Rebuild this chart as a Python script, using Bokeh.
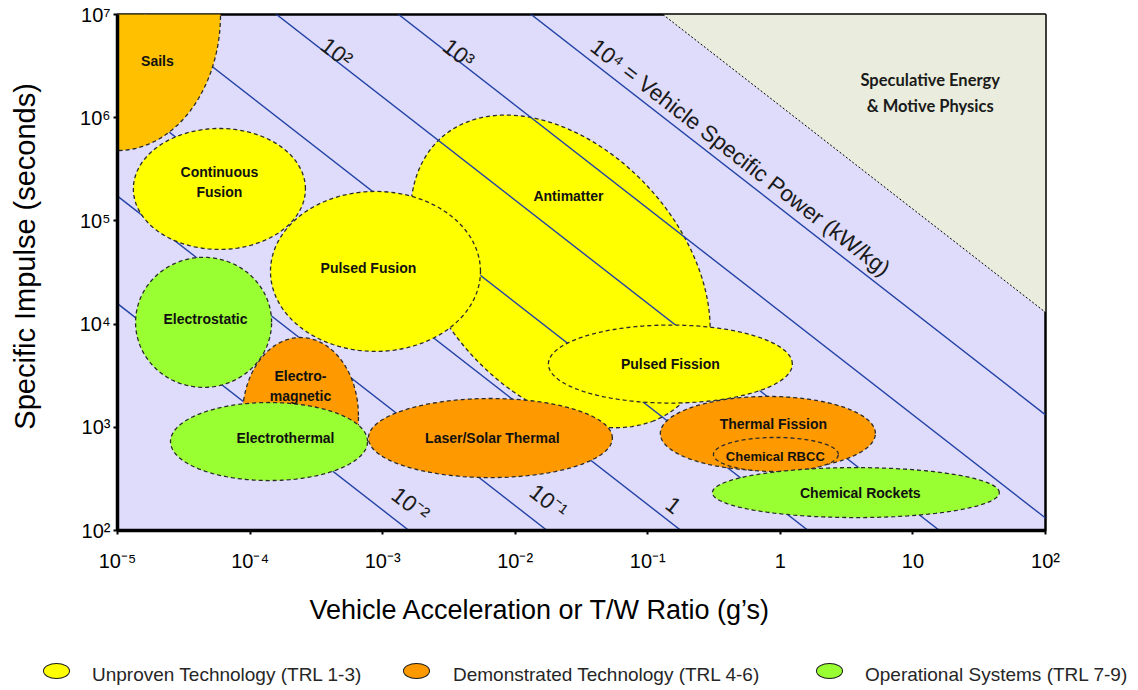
import numpy as np
from bokeh.plotting import figure
from bokeh.models import Range1d, FixedTicker, CustomJSTickFormatter, Div
from bokeh.layouts import column
from bokeh.embed import file_html
from bokeh.resources import INLINE
from bokeh.core.properties import value

# ---------------- data ----------------
x_ticks = [1e-5, 1e-4, 1e-3, 1e-2, 1e-1, 1, 10, 100]
x_tick_labels = ["10⁻⁵", "10⁻⁴", "10⁻³", "10⁻²", "10⁻¹", "1", "10", "10²"]
y_ticks = [1e2, 1e3, 1e4, 1e5, 1e6, 1e7]
y_tick_labels = ["10²", "10³", "10⁴", "10⁵", "10⁶", "10⁷"]
x_title = "Vehicle Acceleration or T/W Ratio (g’s)"
y_title = "Specific Impulse (seconds)"

# constant vehicle specific power lines (kW/kg) -> value of accel*Isp on that line
power_levels = [1e-2, 1e-1, 1, 10, 100, 1e3, 1e4]
power_accel_isp = [0.158, 1.74, 17.8, 162, 1585, 13200, 132000]

power_label_text = ["10⁻²", "10⁻¹", "1", "10²", "10³", "10⁴ = Vehicle Specific Power (kW/kg)"]
power_label_accel = [1.62e-3, 0.0178, 0.156, 4.49e-4, 3.73e-3, 0.499]
power_label_isp = [179, 191, 175, 4.28e6, 4.19e6, 4.11e5]

speculative_accel_isp = 1.3e6
speculative_label = "Speculative Energy\n& Motive Physics"
speculative_label_accel = 13.5
speculative_label_isp = 1.75e6

# propulsion regions (drawing order); centre, half extents in decades, tilt in log space
region_names = ["Antimatter", "Sails", "Continuous Fusion", "Electrostatic", "Pulsed Fusion",
                "Electromagnetic", "Electrothermal", "Laser/Solar Thermal", "Pulsed Fission",
                "Thermal Fission", "Chemical RBCC", "Chemical Rockets"]
region_class = ["unproven", "sails", "unproven", "operational", "unproven",
                "demonstrated", "operational", "demonstrated", "unproven",
                "demonstrated", "demonstrated", "operational"]
region_accel = [0.0219, 1e-5, 5.87e-5, 4.46e-5, 8.83e-4,
                2.40e-4, 1.39e-4, 6.50e-3, 0.148,
                0.805, 0.925, 3.71]
region_isp = [3.24e4, 1e7, 2.04e5, 1.04e4, 3.24e4,
              1300, 728, 787, 4100,
              871, 545, 233]
region_rx = [1.61, 0.777, 0.649, 0.513, 0.792,
             0.437, 0.743, 0.920, 0.920,
             0.811, 0.471, 1.082]
region_ry = [0.99, 1.318, 0.586, 0.630, 0.775,
             0.756, 0.378, 0.383, 0.378,
             0.359, 0.165, 0.242]
region_tilt = [-64.6, 0, 0, 0, 0, 0, 0, 0, 0, 0, 0, 0]
region_floor = [None, None, None, None, None, 667, None, None, None, None, None, None]

region_label_text = ["Antimatter", "Sails", "Continuous\nFusion", "Electrostatic", "Pulsed Fusion",
                     "Electro-\nmagnetic", "Electrothermal", "Laser/Solar Thermal", "Pulsed Fission",
                     "Thermal Fission", "Chemical RBCC", "Chemical Rockets"]
region_label_accel = [0.0252, 2.0e-5, 5.87e-5, 4.61e-5, 7.81e-4,
                      2.40e-4, 1.85e-4, 6.73e-3, 0.148,
                      0.885, 0.916, 4.01]
region_label_isp = [1.76e5, 3.58e6, 2.36e5, 1.13e4, 3.46e4,
                    2540, 796, 796, 4070,
                    1065, 521, 233]

legend_classes = ["unproven", "demonstrated", "operational"]
legend_text = ["Unproven Technology (TRL 1-3)", "Demonstrated Technology (TRL 4-6)",
               "Operational Systems (TRL 7-9)"]

# ---------------- styles ----------------
fill_for = {"unproven": "#FFFF00", "demonstrated": "#FF9900",
            "operational": "#99FF33", "sails": "#FFC000"}
LAVENDER = "#DEDCFA"
SPEC_FILL = "#EAEDDD"
LINE_BLUE = "#2342A6"
FONT = "Liberation Sans"
NBSP = "\u00a0"


def ellipse_path(cx, cy, rx, ry, tilt_deg, floor=None, n=200):
    lx0, ly0 = np.log10(cx), np.log10(cy)
    phi = np.radians(tilt_deg)
    t = np.linspace(0, np.pi if floor is not None else 2 * np.pi, n)
    ex, ey = rx * np.cos(t), ry * np.sin(t)
    lx = lx0 + ex * np.cos(phi) - ey * np.sin(phi)
    ly = ly0 + ex * np.sin(phi) + ey * np.cos(phi)
    xs, ys = list(10 ** lx), list(10 ** ly)
    if floor is not None:
        xs += [10 ** (lx0 - rx), 10 ** (lx0 + rx)]
        ys += [floor, floor]
    return xs, ys


p = figure(x_axis_type="log", y_axis_type="log",
           x_range=Range1d(x_ticks[0], x_ticks[-1]), y_range=Range1d(y_ticks[0], y_ticks[-1]),
           frame_width=928, frame_height=516,
           min_border_left=117, min_border_top=14, min_border_right=88, min_border_bottom=100,
           output_backend="svg", toolbar_location=None)
p.background_fill_color = LAVENDER
p.border_fill_color = "white"
p.outline_line_color = "black"
p.outline_line_width = 2.5
p.xgrid.visible = False
p.ygrid.visible = False

# speculative region
xmax, ymax = x_ticks[-1], y_ticks[-1]
p.patch([speculative_accel_isp / ymax, xmax, xmax],
        [ymax, ymax, speculative_accel_isp / xmax],
        fill_color=SPEC_FILL, line_color=None)
p.line([speculative_accel_isp / ymax, xmax], [ymax, speculative_accel_isp / xmax],
       line_color="black", line_dash="2 2", line_width=1)


def draw_region(i):
    xs, ys = ellipse_path(region_accel[i], region_isp[i], region_rx[i], region_ry[i],
                          region_tilt[i], region_floor[i])
    p.patch(xs, ys, fill_color=fill_for[region_class[i]], line_color="#2b2b2b",
            line_dash="4 3", line_width=1.3)


# antimatter sits beneath the power lines
draw_region(0)

xa = [x_ticks[0], x_ticks[-1]]
for c in power_accel_isp:
    p.line(xa, [c / xa[0], c / xa[1]], line_color=LINE_BLUE, line_width=1.4)

for i in range(1, len(region_names)):
    draw_region(i)

# labels on power lines
for txt, xx, yy in zip(power_label_text, power_label_accel, power_label_isp):
    p.text([xx], [yy], text=[txt], angle=-37.7, angle_units="deg",
           text_align="center", text_baseline="middle",
           text_font=value(FONT), text_font_size="22.5px", text_color="#1a1a1a")

# region labels
for txt, xx, yy in zip(region_label_text, region_label_accel, region_label_isp):
    p.text([xx], [yy], text=[txt], text_align="center", text_baseline="middle",
           text_font=value(FONT), text_font_style="bold",
           text_font_size="13px" if txt == "Chemical RBCC" else "14px",
           text_color="#111111", text_line_height=1.25)

p.text([speculative_label_accel], [speculative_label_isp], text=[speculative_label],
       text_align="center", text_baseline="middle", text_font=value("Lato"),
       text_font_style="bold", text_font_size="16.5px", text_color="#1a1a1a",
       text_line_height=1.3)

# axes
p.xaxis.ticker = FixedTicker(ticks=x_ticks)
p.yaxis.ticker = FixedTicker(ticks=y_ticks)
fmt_code = """
const k = Math.round(Math.log10(tick));
for (let i = 0; i < vals.length; i++) {
  if (Math.round(Math.log10(vals[i])) == k) return labels[i];
}
return "";
"""
p.xaxis.formatter = CustomJSTickFormatter(args=dict(vals=x_ticks, labels=x_tick_labels), code=fmt_code)
p.yaxis.formatter = CustomJSTickFormatter(args=dict(vals=y_ticks, labels=y_tick_labels), code=fmt_code)

for ax in (p.xaxis, p.yaxis):
    ax.axis_line_width = 3.5
    ax.axis_line_color = "black"
    ax.major_tick_line_color = "black"
    ax.major_tick_line_width = 2
    ax.major_tick_out = 4
    ax.major_tick_in = 0
    ax.minor_tick_line_color = None
    ax.major_label_text_font = FONT
    ax.major_label_text_font_size = "20px"
    ax.major_label_text_color = "black"
    ax.axis_label_text_font_style = "normal"
    ax.axis_label_text_color = "black"

p.xaxis.major_label_standoff = 15
p.yaxis.major_label_standoff = 3
# no-break spaces nudge the centred axis titles off-centre, as in the reference
p.yaxis.axis_label = NBSP * 4 + y_title
p.yaxis.axis_label_text_font = FONT
p.yaxis.axis_label_text_font_size = "29px"
p.yaxis.axis_label_standoff = 36
p.xaxis.axis_label = x_title + NBSP * 11
p.xaxis.axis_label_text_font = FONT
p.xaxis.axis_label_text_font_size = "27px"
p.xaxis.axis_label_standoff = 20

# ---------------- legend strip (HTML) below the plot ----------------
marker_left = [43, 403, 816]
text_left = [92, 453, 865]
parts = []
for cls, txt, ml, tl in zip(legend_classes, legend_text, marker_left, text_left):
    parts.append(
        f'<div style="position:absolute;left:{ml}px;top:33px;width:27px;height:16px;'
        f'border-radius:50%;background:{fill_for[cls]};border:1.3px solid #1a1a1a;"></div>'
        f'<div style="position:absolute;left:{tl}px;top:34px;line-height:22px;'
        f'white-space:nowrap;">{txt}</div>')
legend_html = ('<div style="position:relative;width:1133px;height:60px;margin:0;padding:0;'
               "font-family:'Liberation Sans',Arial,sans-serif;font-size:19px;color:#262626;\">"
               + "".join(parts) + "</div>")
legend_div = Div(text=legend_html, width=1133, height=60, margin=0)

layout = column(p, legend_div, spacing=0)
open("out.html", "w").write(file_html(layout, INLINE))
